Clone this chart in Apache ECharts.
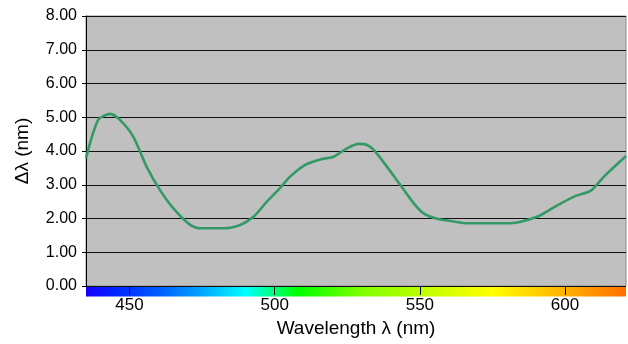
<!DOCTYPE html>
<html>
<head>
<meta charset="utf-8">
<script src="https://cdn.jsdelivr.net/npm/echarts@6/dist/echarts.min.js"></script>
<style>
  html, body { margin: 0; padding: 0; background: #fff; }
  #chart { width: 628px; height: 344px; }
</style>
</head>
<body>
<div id="chart"></div>
<script>
// wavelength (nm) and delta lambda (nm)
var wavelength = [435, 439.2, 443.3, 446.7, 451.3, 455.9, 460.5, 465.1, 470.9, 474.3,
  482.3, 488.1, 492.7, 497.3, 501.9, 505.3, 510.5, 515.7, 520.3, 524.9,
  528.9, 531.8, 534.1, 538.7, 543.3, 547.9, 551.3, 555.9, 561.7, 566.3,
  581.2, 590.4, 596.1, 603.6, 608.8, 613.4, 621];
var deltaLambda = [3.78, 4.92, 5.10, 4.92, 4.42, 3.53, 2.84, 2.30, 1.81, 1.71,
  1.71, 1.81, 2.05, 2.50, 2.91, 3.24, 3.59, 3.75, 3.83, 4.08,
  4.21, 4.18, 4.03, 3.53, 2.99, 2.45, 2.15, 1.99, 1.91, 1.86,
  1.86, 2.05, 2.33, 2.67, 2.82, 3.24, 3.85];
var xTicks = [450, 500, 550, 600];

var xMin = 435, xMax = 621;

var chart = echarts.init(document.getElementById("chart"));

var option = {
  animation: false,
  grid: {
    left: 86,
    right: 2,
    top: 16,
    bottom: 58,
    containLabel: false,
    outerBoundsMode: "none",
    show: true,
    backgroundColor: "#c0c0c0",
    borderColor: "#8c8c8c",
    borderWidth: 1
  },
  xAxis: {
    type: "value",
    min: xMin,
    max: xMax,
    zlevel: 1,
    name: "Wavelength λ (nm)",
    nameLocation: "middle",
    nameGap: 32,
    nameTextStyle: { fontFamily: "Liberation Sans", fontSize: 19, color: "#000" },
    axisLine: { show: false },
    axisTick: {
      show: true,
      length: 9,
      lineStyle: { color: "#000", width: 1 },
      customValues: xTicks
    },
    axisLabel: {
      fontFamily: "Liberation Sans",
      fontSize: 17,
      color: "#000",
      margin: 11,
      customValues: xTicks
    },
    splitLine: { show: false }
  },
  yAxis: {
    type: "value",
    min: 0,
    max: 8,
    interval: 1,
    name: "Δλ (nm)",
    nameLocation: "middle",
    nameGap: 54,
    nameTextStyle: { fontFamily: "Liberation Sans", fontSize: 19, color: "#000" },
    axisLine: { show: true, lineStyle: { color: "#000", width: 1 } },
    axisTick: { show: true, length: 4, lineStyle: { color: "#000" } },
    axisLabel: {
      fontFamily: "Liberation Sans",
      fontSize: 16,
      color: "#000",
      margin: 9,
      formatter: function (v) { return v.toFixed(2); }
    },
    splitLine: { show: true, lineStyle: { color: "#111", width: 1 } }
  },
  series: [
    {
      type: "line",
      data: wavelength.map(function (w, i) { return [w, deltaLambda[i]]; }),
      symbol: "none",
      smooth: 0.25,
      lineStyle: { color: "#339966", width: 2.6 },
      z: 3
    }
  ]
};

chart.setOption(option);

// spectrum strip under the plot
var p0 = chart.convertToPixel({ gridIndex: 0 }, [xMin, 0]);
var p1 = chart.convertToPixel({ gridIndex: 0 }, [xMax, 0]);
function stop(nm, c) { return { offset: (nm - xMin) / (xMax - xMin), color: c }; }
chart.setOption({
  graphic: [
    {
      type: "rect",
      z: -10,
      shape: { x: p0[0], y: p0[1] + 0.5, width: p1[0] - p0[0], height: 10 },
      style: {
        fill: new echarts.graphic.LinearGradient(0, 0, 1, 0, [
          stop(435, "#1400ff"),
          stop(445, "#0022ff"),
          stop(460, "#005cff"),
          stop(475, "#00a8ff"),
          stop(490, "#00ffff"),
          stop(498, "#00ff90"),
          stop(508, "#00ff00"),
          stop(530, "#80ff00"),
          stop(560, "#d8ff00"),
          stop(575, "#ffff00"),
          stop(600, "#ffb000"),
          stop(621, "#ff7000")
        ])
      }
    }
  ]
});
</script>
</body>
</html>
